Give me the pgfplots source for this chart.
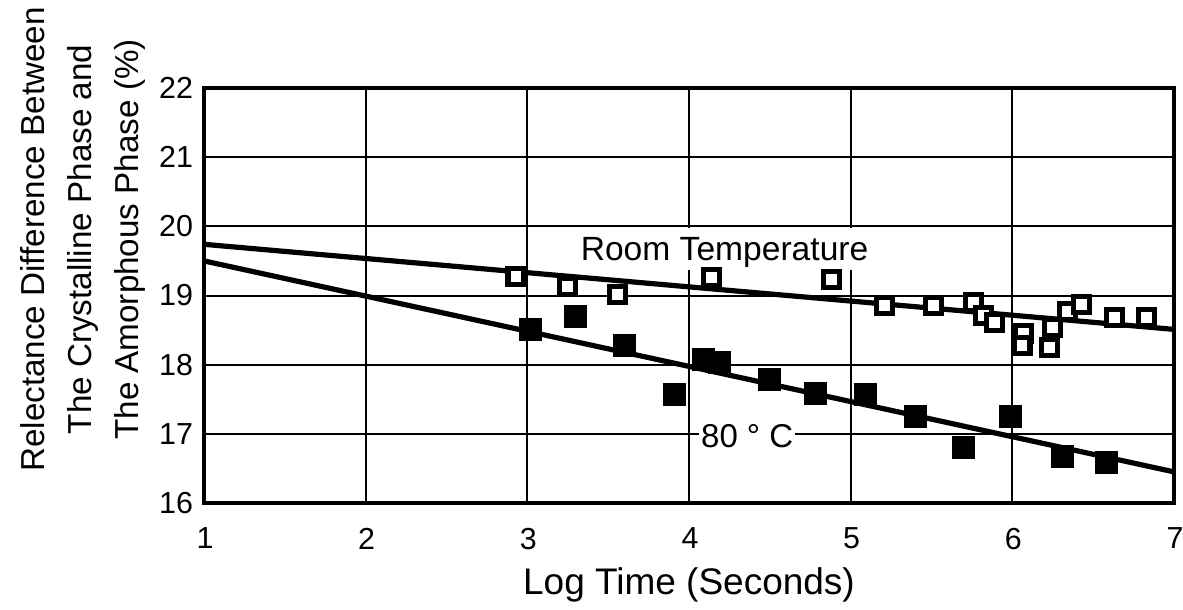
\documentclass[border=0pt]{standalone}
\usepackage{fontspec}
\setmainfont{Liberation Sans}
\usepackage{pgfplots}
\pgfplotsset{compat=1.18}
\begin{document}
\begin{tikzpicture}
\useasboundingbox (0,0) rectangle (591.5pt,305pt);
\begin{axis}[
  at={(102pt,53.5pt)}, anchor=south west,
  width=485pt, height=207.5pt, scale only axis,
  xmin=1, xmax=7, ymin=16, ymax=22,
  xtick={1,2,3,4,5,6,7}, ytick={16,17,18,19,20,21,22},
  grid=major,
  major grid style={black, line width=1pt},
  axis line style={line width=2.25pt},
  tick style={draw=none},
  /pgf/number format/assume math mode=true,
  ticklabel style={font=\fontsize{15.2}{17}\selectfont},
  xticklabel style={yshift=-9pt, xshift=0.5pt},
  yticklabel style={xshift=-2pt},
  xlabel={Log Time (Seconds)},
  xlabel style={font=\fontsize{18.5}{20}\selectfont, yshift=-2pt},
  ylabel={Relectance Difference Between\\The Crystalline Phase and\\The Amorphous Phase (\%)},
  ylabel style={font=\fontsize{16.6}{23.5}\selectfont, align=center, at={(ticklabel cs:0.635)}},
  clip=false,
]
% fit lines
\addplot[black, line width=2.6pt] coordinates {(1,19.74) (7,18.51)};
\addplot[black, line width=2.6pt] coordinates {(1,19.50) (7,16.45)};
% room temperature (open squares)
\addplot[only marks, mark=square*, mark size=4pt,
  mark options={draw=black, fill=white, line width=2.6pt}] coordinates {
  (2.93,19.28) (3.25,19.13) (3.56,19.01) (4.14,19.26) (4.88,19.23)
  (5.21,18.86) (5.51,18.86) (5.76,18.90) (5.82,18.71) (5.89,18.61)
  (6.07,18.45) (6.06,18.28) (6.23,18.25) (6.25,18.54) (6.34,18.77)
  (6.43,18.87) (6.63,18.68) (6.83,18.68)};
% 80 C (filled squares)
\addplot[only marks, mark=square*, mark size=5.5pt,
  mark options={draw=none, fill=black}] coordinates {
  (3.02,18.51) (3.30,18.70) (3.60,18.28) (3.91,17.57) (4.09,18.07)
  (4.19,18.03) (4.50,17.78) (4.78,17.59) (5.09,17.57) (5.40,17.25)
  (5.70,16.80) (5.99,17.25) (6.31,16.67) (6.58,16.58)};
\node[font=\fontsize{16.8}{18}\selectfont, fill=white, anchor=north,
  inner xsep=1pt, inner ysep=4.5pt, text height=12pt, text depth=0pt]
  at (axis cs:4.22,19.985) {Room Temperature};
\node[font=\fontsize{16.5}{18}\selectfont, fill=white, inner xsep=1pt, inner ysep=1pt]
  at (axis cs:4.36,16.97) {80 ° C};
\draw[black, line width=1pt] (axis cs:4,16.85) -- (axis cs:4,17.15);
\end{axis}
\end{tikzpicture}
\end{document}
